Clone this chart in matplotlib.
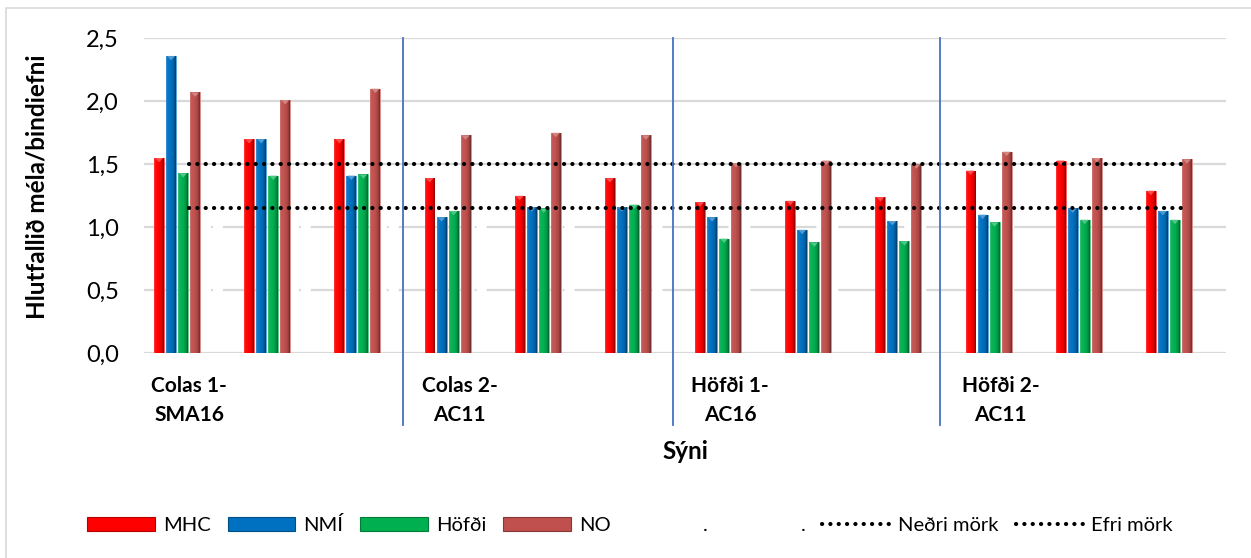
import numpy as np
import matplotlib.pyplot as plt
import matplotlib.colors as mcolors
import matplotlib.transforms as mtransforms
from matplotlib.lines import Line2D
from matplotlib.patches import Patch, Rectangle, Polygon

plt.rcParams['font.family'] = ['Lato', 'DejaVu Sans']
plt.rcParams['lines.scale_dashes'] = False

# Sýni (only the first sample of each mix is labelled)
samples = ['Colas 1-\nSMA16', '', '', 'Colas 2-\nAC11', '', '',
           'Höfði 1-\nAC16', '', '', 'Höfði 2-\nAC11', '', '']

# hlutfall méla/bindiefni per lab
mhc = [1.55, 1.70, 1.70, 1.39, 1.25, 1.39, 1.20, 1.21, 1.24, 1.45, 1.53, 1.29]
nmi = [2.36, 1.70, 1.41, 1.08, 1.16, 1.16, 1.08, 0.98, 1.05, 1.10, 1.15, 1.13]
hofdi = [1.43, 1.41, 1.42, 1.13, 1.15, 1.18, 0.91, 0.88, 0.89, 1.04, 1.06, 1.06]
no = [2.07, 2.01, 2.10, 1.73, 1.75, 1.73, 1.51, 1.53, 1.50, 1.60, 1.55, 1.54]

# limits
nedri_mork = 1.15
efri_mork = 1.50

series = [('MHC', mhc, '#FF0000'),
          ('NMÍ', nmi, '#0070C0'),
          ('Höfði', hofdi, '#00B050'),
          ('NO', no, '#C0504D')]

# two empty "." series still take a slot each in every group
n_slots = 6
slot = 0.8 / n_slots
bar_w = 0.11

# separator lines between the mixes (data x)
separators = [2.37, 5.37, 8.33]

fig = plt.figure(figsize=(12.51, 5.58), dpi=100)
ax = fig.add_axes([144 / 1251, 1 - 353.3 / 558, 1082 / 1251, 315 / 558])

# chart area frame
fig.patches.append(Rectangle((6 / 1251, -0.05), 1.2, 1 - 8 / 558 + 0.05,
                             transform=fig.transFigure, fill=False,
                             edgecolor='#D9D9D9', lw=1.2))


def shade(c, f):
    rgb = np.array(mcolors.to_rgb(c))
    if f >= 1:
        return tuple(rgb + (1 - rgb) * (f - 1))
    return tuple(rgb * f)


def bevel_bar(rect, color):
    x0, y0 = rect.get_x(), rect.get_y()
    w, h = rect.get_width(), rect.get_height()
    t = np.linspace(0, 1, 40)
    k = np.interp(t, [0, 0.12, 0.5, 0.8, 1], [1.25, 1.05, 1.0, 0.85, 0.55])
    img = np.array([[shade(color, v) for v in k]])
    im = ax.imshow(img, extent=(x0, x0 + w, y0, y0 + h), aspect='auto',
                   interpolation='bilinear', zorder=3)
    im.set_clip_path(rect)
    tri = Polygon([(x0 + w * 0.1, y0 + h), (x0 + w * 0.9, y0 + h),
                   (x0 + w / 2, y0 + h - 0.035)], closed=True,
                  facecolor=shade(color, 1.3), edgecolor='none', zorder=4)
    ax.add_patch(tri)


x = np.arange(len(samples))
for i, (name, vals, col) in enumerate(series):
    offs = (i - (n_slots - 1) / 2) * slot
    bars = ax.bar(x + offs, vals, width=bar_w, color=col, zorder=2,
                  edgecolor=shade(col, 1.35), linewidth=0.6)
    for b in bars:
        bevel_bar(b, col)

# limit lines
dot_style = dict(color='black', lw=3.0, linestyle=(0, (0.1, 5.9)),
                 dash_capstyle='round', zorder=5)
ax.plot(x, [efri_mork] * len(x), **dot_style)
ax.plot(x, [nedri_mork] * len(x), **dot_style)

# gridlines
yticks = [0.0, 0.5, 1.0, 1.5, 2.0, 2.5]
for v in yticks:
    if v in (0.5, 1.0):
        ax.axhline(v, color='#D9D9D9', lw=1.6,
                   linestyle=(6.5, (47.5, 7.2, 1.4, 7.2)), zorder=1)
    else:
        ax.axhline(v, color='#D9D9D9', lw=1.6, zorder=1)

trans = mtransforms.blended_transform_factory(ax.transData, ax.transAxes)
for sx in separators:
    ax.plot([sx, sx], [-0.228, 1.0], color='#4472C4', lw=1.3,
            transform=trans, clip_on=False, zorder=6)

ax.set_xlim(-0.5, len(samples) - 0.5)
ax.set_ylim(0, 2.5)
ax.set_yticks(yticks)
ax.set_yticklabels([f'{v:.1f}'.replace('.', ',') for v in yticks], fontsize=17)
ax.set_xticks(x)
ax.set_xticklabels(samples, fontsize=15, fontweight='bold', linespacing=1.62)
ax.tick_params(length=0)
ax.tick_params(axis='y', pad=18)
ax.tick_params(axis='x', pad=16)
for s in ax.spines.values():
    s.set_visible(False)

ax.set_ylabel('Hlutfallið méla/bindiefni', fontsize=17.5, fontweight='bold')
ax.yaxis.set_label_coords(-0.088, 0.53)
ax.set_xlabel('Sýni', fontsize=17.5, fontweight='bold')
ax.xaxis.set_label_coords(0.5, -0.275)

handles = [Patch(facecolor=c, edgecolor=shade(c, 0.7), lw=0.8) for _, _, c in series]
labels = [n for n, _, _ in series]
handles += [Patch(facecolor='none', edgecolor='none')] * 2
labels += ['.', '.']
handles += [Line2D([], [], **dot_style)] * 2
labels += ['Neðri mörk', 'Efri mörk']
fig.legend(handles, labels, loc='center', bbox_to_anchor=(630 / 1251, 1 - 525 / 558),
           ncol=8, frameon=False, fontsize=14.5, handlelength=3.35, handleheight=0.75,
           handletextpad=0.4, columnspacing=0.85)

fig.savefig('out.png', dpi=100)
